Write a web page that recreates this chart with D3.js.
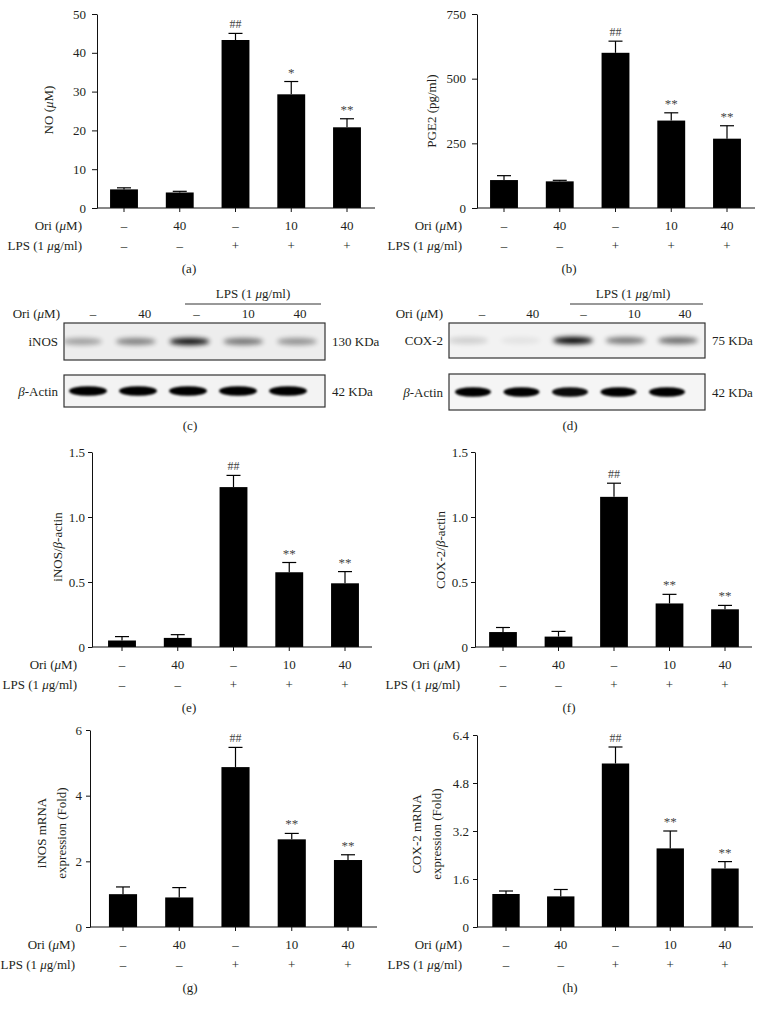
<!DOCTYPE html>
<html><head><meta charset="utf-8">
<script src="https://cdn.jsdelivr.net/npm/d3@7"></script>
<style>
body{margin:0;background:#fff}
svg{display:block}
text{font-family:"Liberation Serif","Times New Roman",serif;fill:#231f20}
</style>
</head><body>
<svg id="c" width="763" height="1014"></svg>
<script>
// ---------- data ----------
const oriDose = ["–", "40", "–", "10", "40"];
const lpsFlag = ["–", "–", "+", "+", "+"];

const noMean = [4.8, 4.0, 43.3, 29.3, 20.8];
const noErr  = [0.4, 0.3, 1.7, 3.3, 2.2];
const noSig  = ["", "", "##", "*", "**"];
const noTicks = [0, 10, 20, 30, 40, 50];

const pgeMean = [108, 103, 600, 338, 268];
const pgeErr  = [17, 4, 45, 30, 50];
const pgeSig  = ["", "", "##", "**", "**"];
const pgeTicks = [0, 250, 500, 750];

const inosRatioMean = [0.05, 0.07, 1.23, 0.575, 0.49];
const inosRatioErr  = [0.03, 0.025, 0.09, 0.075, 0.09];
const inosRatioSig  = ["", "", "##", "**", "**"];
const coxRatioMean = [0.115, 0.08, 1.155, 0.335, 0.29];
const coxRatioErr  = [0.035, 0.04, 0.105, 0.07, 0.03];
const coxRatioSig  = ["", "", "##", "**", "**"];
const ratioTicks = [0, 0.5, 1.0, 1.5];

const inosMrnaMean = [1.0, 0.9, 4.87, 2.67, 2.04];
const inosMrnaErr  = [0.22, 0.3, 0.6, 0.18, 0.16];
const inosMrnaSig  = ["", "", "##", "**", "**"];
const inosMrnaTicks = [0, 2, 4, 6];
const coxMrnaMean = [1.1, 1.02, 5.45, 2.62, 1.95];
const coxMrnaErr  = [0.1, 0.23, 0.55, 0.58, 0.23];
const coxMrnaSig  = ["", "", "##", "**", "**"];
const coxMrnaTicks = [0, 1.6, 3.2, 4.8, 6.4];

// blot band intensities (0..1)
const inosBand  = [0.32, 0.45, 0.95, 0.5, 0.38];
const actinBandC = [1, 1, 1, 1, 1];
const cox2Band  = [0.14, 0.06, 1.0, 0.5, 0.55];
const actinBandD = [1, 1, 0.95, 1, 1];

// ---------- helpers ----------
const FS = 13;
const svg = d3.select("#c");
const defs = svg.append("defs");
function blurFilter(id, sd){
  defs.append("filter").attr("id", id).attr("x", "-50%").attr("y", "-100%")
    .attr("width", "200%").attr("height", "300%")
    .append("feGaussianBlur").attr("stdDeviation", sd);
}
blurFilter("bl1", 1.3);
blurFilter("bl2", 2.4);

function rich(sel, parts){
  parts.forEach(([t, it]) => {
    const s = sel.append("tspan").text(t);
    if (it) s.attr("font-style", "italic");
  });
  return sel;
}
const oriLabel = [["Ori (", 0], ["μ", 1], ["M)", 0]];
const lpsLabel = [["LPS (1 ", 0], ["μ", 1], ["g/ml)", 0]];

function barPanel(p){
  const g = svg.append("g");
  const step = (p.cN - p.c0) / 4;
  const x = d3.scaleBand().domain(d3.range(5))
    .range([p.c0 - step / 2, p.cN + step / 2])
    .paddingInner(0.5).paddingOuter(0.25);
  const y = d3.scaleLinear().domain([0, p.max]).range([p.yBot, p.yTop]);
  const cx = i => x(i) + x.bandwidth() / 2;

  // bars
  g.selectAll("rect.bar").data(p.mean).join("rect")
    .attr("x", (d, i) => x(i)).attr("width", x.bandwidth())
    .attr("y", d => y(d)).attr("height", d => y(0) - y(d))
    .attr("fill", "#000");
  // error bars
  p.mean.forEach((m, i) => {
    const top = y(m + p.err[i]);
    g.append("line").attr("x1", cx(i)).attr("x2", cx(i))
      .attr("y1", y(m)).attr("y2", top).attr("stroke", "#000").attr("stroke-width", 1.2);
    g.append("line").attr("x1", cx(i) - 7).attr("x2", cx(i) + 7)
      .attr("y1", top).attr("y2", top).attr("stroke", "#000").attr("stroke-width", 1.2);
    if (p.sig[i]) {
      g.append("text").attr("x", cx(i)).attr("y", top - 5)
        .attr("text-anchor", "middle").attr("font-size", p.sig[i][0] === "#" ? 12 : 13)
        .style("fill", "#444").text(p.sig[i]);
    }
  });
  // y axis
  const ya = g.append("g").attr("transform", `translate(${p.axisX},0)`)
    .call(d3.axisLeft(y).tickValues(p.ticks).tickSize(p.tick).tickPadding(p.pad).tickSizeOuter(0)
      .tickFormat(d => d === 0 ? "0" : p.fmt(d)));
  ya.selectAll("text").attr("font-size", FS).attr("font-family", "Liberation Serif").style("fill", "#231f20");
  ya.selectAll("line,path").attr("stroke", "#111");
  // x axis
  const xa = g.append("g").attr("transform", `translate(0,${p.yBot})`)
    .call(d3.axisBottom(x).tickSize(4).tickFormat(""));
  xa.select("path").remove();
  xa.selectAll("line").attr("stroke", "#111");
  g.append("line").attr("x1", p.axisX).attr("x2", p.axisEnd)
    .attr("y1", p.yBot).attr("y2", p.yBot).attr("stroke", "#111");

  // group rows
  g.selectAll("text.ori").data(oriDose).join("text").attr("class", "ori")
    .attr("x", (d, i) => cx(i)).attr("y", p.yBot + 22)
    .attr("text-anchor", "middle").attr("font-size", FS).text(d => d);
  g.selectAll("text.lps").data(lpsFlag).join("text").attr("class", "lps")
    .attr("x", (d, i) => cx(i)).attr("y", p.yBot + 42)
    .attr("text-anchor", "middle").attr("font-size", FS).text(d => d);
  rich(g.append("text").attr("x", p.axisX - 15).attr("y", p.yBot + 22)
    .attr("text-anchor", "end").attr("font-size", FS), oriLabel);
  rich(g.append("text").attr("x", p.axisX - 15).attr("y", p.yBot + 42)
    .attr("text-anchor", "end").attr("font-size", FS), lpsLabel);
  g.append("text").attr("x", p.labelX).attr("y", p.yBot + 65)
    .attr("text-anchor", "middle").attr("font-size", FS).text(p.label);

  // y titles
  p.titles.forEach((parts, k) => {
    rich(g.append("text")
      .attr("transform", `translate(${p.titleX[k]},${p.titleY}) rotate(-90)`)
      .attr("text-anchor", "middle").attr("font-size", FS)
      .attr("dominant-baseline", "middle"), parts);
  });
}

function blotPanel(p){
  const g = svg.append("g");
  // LPS header + line
  rich(g.append("text").attr("x", p.lpsX).attr("y", 298)
    .attr("text-anchor", "middle").attr("font-size", FS), lpsLabel);
  g.append("line").attr("x1", p.lineX0).attr("x2", p.lineX1)
    .attr("y1", 304).attr("y2", 304).attr("stroke", "#333");
  rich(g.append("text").attr("x", p.oriX).attr("y", 318)
    .attr("text-anchor", "end").attr("font-size", FS), oriLabel);
  const lx = d3.scalePoint().domain(d3.range(5)).range(p.laneLabelRange);
  g.selectAll("text.lane").data(oriDose).join("text").attr("class", "lane")
    .attr("x", (d, i) => lx(i)).attr("y", 318)
    .attr("text-anchor", "middle").attr("font-size", FS).text(d => d);

  // boxes
  [p.top, p.bot].forEach(b => {
    g.append("rect").attr("x", p.bx0).attr("y", b.y).attr("width", p.bx1 - p.bx0)
      .attr("height", b.h).attr("fill", b.bg).attr("stroke", "#333").attr("stroke-width", 1.2);
    const bx = d3.scalePoint().domain(d3.range(5)).range(b.range);
    const clipId = "clip" + Math.round(b.y) + p.bx0;
    defs.append("clipPath").attr("id", clipId).append("rect")
      .attr("x", p.bx0 + 1).attr("y", b.y + 1).attr("width", p.bx1 - p.bx0 - 2).attr("height", b.h - 2);
    const bg = g.append("g").attr("clip-path", `url(#${clipId})`);
    bg.selectAll("ellipse").data(b.vals).join("ellipse")
      .attr("cx", (d, i) => bx(i)).attr("cy", b.y + b.h / 2 + (b.dy || 0))
      .attr("rx", b.rx).attr("ry", b.ry)
      .attr("fill", "#000").attr("opacity", d => d)
      .attr("filter", `url(#${b.filter})`);
    rich(g.append("text").attr("x", p.bx0 - 6).attr("y", b.y + b.h / 2 + 4.5)
      .attr("text-anchor", "end").attr("font-size", FS), b.name);
    g.append("text").attr("x", p.bx1 + 7).attr("y", b.y + b.h / 2 + 4.5)
      .attr("font-size", FS).text(b.kda);
  });
  g.append("text").attr("x", p.labelX).attr("y", 430)
    .attr("text-anchor", "middle").attr("font-size", FS).text(p.label);
}

const f0 = d3.format("d"), f1 = d3.format(".1f");
const beta = [["β", 1], ["-Actin", 0]];

// (a)
barPanel({mean: noMean, err: noErr, sig: noSig, ticks: noTicks, max: 50, fmt: f0, tick: 5, pad: 6,
  axisX: 97, axisEnd: 375, c0: 124, cN: 347, yTop: 14, yBot: 208, label: "(a)", labelX: 189,
  titles: [[["NO (", 0], ["μ", 1], ["M)", 0]]], titleX: [50], titleY: 110});
// (b)
barPanel({mean: pgeMean, err: pgeErr, sig: pgeSig, ticks: pgeTicks, max: 750, fmt: f0, tick: 5, pad: 6,
  axisX: 477, axisEnd: 755, c0: 504, cN: 727, yTop: 14, yBot: 208, label: "(b)", labelX: 569,
  titles: [[["PGE2 (pg/ml)", 0]]], titleX: [433], titleY: 111});
// (c)
blotPanel({lpsX: 253, lineX0: 185, lineX1: 321, oriX: 60, laneLabelRange: [93, 300],
  bx0: 64, bx1: 325, label: "(c)", labelX: 190,
  top: {y: 323, h: 37, bg: "#ededed", range: [82, 297], vals: inosBand, rx: 20, ry: 3.5, filter: "bl2",
        name: [["iNOS", 0]], kda: "130 KDa"},
  bot: {y: 375, h: 32, bg: "#f3f3f3", range: [88, 288], vals: actinBandC, rx: 19, ry: 4.8, filter: "bl1",
        name: beta, kda: "42 KDa"}});
// (d)
blotPanel({lpsX: 633, lineX0: 570, lineX1: 703, oriX: 443, laneLabelRange: [482, 685],
  bx0: 449, bx1: 705, label: "(d)", labelX: 570,
  top: {y: 323, h: 35, bg: "#f2f2f2", range: [468, 678], vals: cox2Band, rx: 20, ry: 3.5, filter: "bl2",
        name: [["COX-2", 0]], kda: "75 KDa"},
  bot: {y: 374, h: 36, bg: "#f5f5f5", range: [473, 667], vals: actinBandD, rx: 18, ry: 4.8, filter: "bl1",
        name: beta, kda: "42 KDa"}});
// (e)
barPanel({mean: inosRatioMean, err: inosRatioErr, sig: inosRatioSig, ticks: ratioTicks, max: 1.5, fmt: f1, tick: 4, pad: 3,
  axisX: 92, axisEnd: 372, c0: 122, cN: 345, yTop: 452, yBot: 647, label: "(e)", labelX: 189,
  titles: [[["iNOS/", 0], ["β", 1], ["-actin", 0]]], titleX: [59], titleY: 547});
// (f)
barPanel({mean: coxRatioMean, err: coxRatioErr, sig: coxRatioSig, ticks: ratioTicks, max: 1.5, fmt: f1, tick: 4, pad: 3,
  axisX: 475, axisEnd: 752, c0: 503, cN: 725, yTop: 452, yBot: 647, label: "(f)", labelX: 569,
  titles: [[["COX-2/", 0], ["β", 1], ["-actin", 0]]], titleX: [442], titleY: 550});
// (g)
barPanel({mean: inosMrnaMean, err: inosMrnaErr, sig: inosMrnaSig, ticks: inosMrnaTicks, max: 6, fmt: f0, tick: 4, pad: 4,
  axisX: 90, axisEnd: 377, c0: 123, cN: 348, yTop: 730, yBot: 927, label: "(g)", labelX: 190,
  titles: [[["iNOS mRNA", 0]], [["expression (Fold)", 0]]], titleX: [43, 63], titleY: 833});
// (h)
barPanel({mean: coxMrnaMean, err: coxMrnaErr, sig: coxMrnaSig, ticks: coxMrnaTicks, max: 6.4, fmt: f1, tick: 4, pad: 4,
  axisX: 477, axisEnd: 753, c0: 506, cN: 725, yTop: 735, yBot: 927, label: "(h)", labelX: 570,
  titles: [[["COX-2 mRNA", 0]], [["expression (Fold)", 0]]], titleX: [418, 438], titleY: 834});
</script>
</body></html>
